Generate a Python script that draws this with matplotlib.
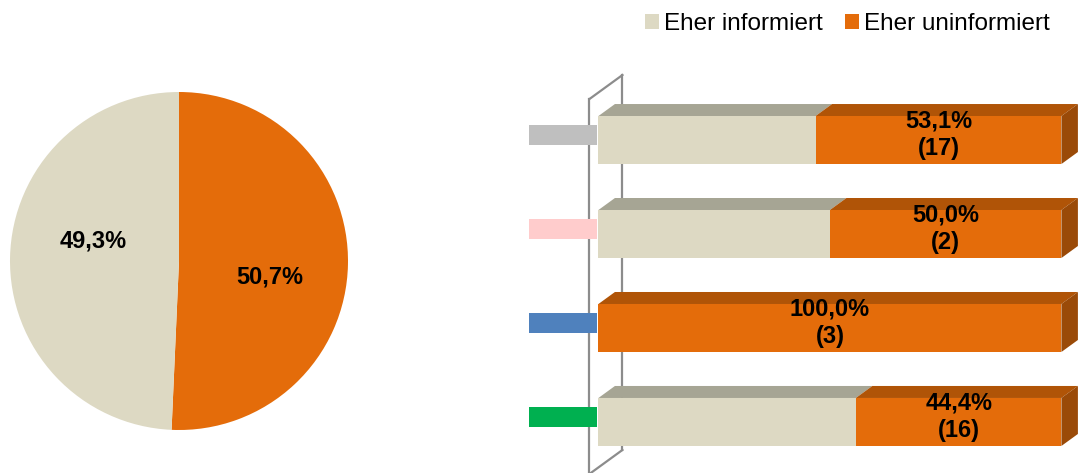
import numpy as np
import matplotlib.pyplot as plt
from matplotlib.patches import Polygon, Patch

plt.rcParams['font.family'] = ['Liberation Sans', 'DejaVu Sans']

# Overall split
pie_labels = ['Eher uninformiert', 'Eher informiert']
pie_values = [50.7, 49.3]

# Split per group (percent) and counts of "uninformiert"
group_colors = ['#BFBFBF', '#FFCCCC', '#4F81BD', '#00B050']
informiert = [46.9, 50.0, 0.0, 55.6]
uninformiert = [53.1, 50.0, 100.0, 44.4]
uninf_counts = [17, 2, 3, 16]

beige = '#DDD9C3'
beige_top = '#A6A594'
orange = '#E46C0A'
orange_top = '#B05407'
orange_side = '#9A4A08'


def pct(v):
    return f"{v:.1f}".replace('.', ',') + '%'


fig = plt.figure(figsize=(10.78, 4.73), dpi=100)
fig.set_facecolor('white')

# ---- Pie ----
W, H = 1078, 473
ax_pie = fig.add_axes([10 / W, (H - 430) / H, 338 / W, 338 / H])
ax_pie.pie(pie_values, colors=[orange, beige], startangle=90,
           counterclock=False, radius=1.0)
ax_pie.set_xlim(-1, 1)
ax_pie.set_ylim(-1, 1)
ax_pie.text(0.535, -0.095, pct(pie_values[0]), ha='center', va='center',
            fontsize=17, fontweight='bold')
ax_pie.text(-0.51, 0.118, pct(pie_values[1]), ha='center', va='center',
            fontsize=17, fontweight='bold')
ax_pie.axis('off')

# ---- 3D-looking stacked bars ----
ax = fig.add_axes([529 / W, 0, 550 / W, 403 / H])
ax.set_xlim(-15, 103.8)
ax.set_ylim(3.543, -0.745)
ax.axis('off')

px = 100 / 463.0      # percent per pixel
py = 1 / 94.0         # category units per pixel
dx = 16.5 * px
dy = 12 * py
h = 48 * py

# side wall
wall_x = np.array([-9, 24, 24, -9]) * px
wall_y = np.array([-41, -65, 310, 334]) * py
ax.plot([wall_x[0], wall_x[0]], [wall_y[0], 3.7], color='#8C8C8C', lw=1.6,
        zorder=1, clip_on=False)
ax.plot([wall_x[0], wall_x[1]], [wall_y[0], wall_y[1]], color='#8C8C8C', lw=1.6, zorder=1)
ax.plot([wall_x[1], wall_x[2]], [wall_y[1], wall_y[2]], color='#8C8C8C', lw=1.6, zorder=1)
ax.plot([wall_x[2], wall_x[3]], [wall_y[2], wall_y[3]], color='#8C8C8C', lw=1.6,
        zorder=1, clip_on=False)

ypos = np.arange(len(informiert))

ax.barh(ypos, informiert, height=h, color=beige, zorder=3)
ax.barh(ypos, uninformiert, left=informiert, height=h, color=orange, zorder=3)

for i, (a, b) in enumerate(zip(informiert, uninformiert)):
    top = i - h / 2
    bot = i + h / 2
    if a > 0:
        ax.add_patch(Polygon([(0, top), (dx, top - dy), (a + dx, top - dy), (a, top)],
                             closed=True, facecolor=beige_top, edgecolor='none', zorder=2))
    ax.add_patch(Polygon([(a, top), (a + dx, top - dy), (a + b + dx, top - dy), (a + b, top)],
                         closed=True, facecolor=orange_top, edgecolor='none', zorder=2))
    r = a + b
    ax.add_patch(Polygon([(r, top), (r + dx, top - dy), (r + dx, bot - dy), (r, bot)],
                         closed=True, facecolor=orange_side, edgecolor='none', zorder=2))
    ax.text(a + b / 2, i - 5 * py, f"{pct(b)}\n({uninf_counts[i]})",
            ha='center', va='center', fontsize=17, fontweight='bold',
            linespacing=1.25, zorder=5)

# group markers in place of tick labels
ax.barh(ypos - 5 * py, [14.6] * 4, left=-15, height=20 * py,
        color=group_colors, zorder=4)

# ---- Legend ----
handles = [Patch(facecolor=beige, label='Eher informiert'),
           Patch(facecolor=orange, label='Eher uninformiert')]
fig.legend(handles=handles, loc='center right', bbox_to_anchor=(1050 / W, 1 - 24 / H),
           ncol=2, frameon=False, fontsize=17.5, handlelength=0.6, handleheight=0.6,
           handletextpad=0.2, columnspacing=0.9, borderaxespad=0, borderpad=0)

fig.savefig('out.png', dpi=100)
